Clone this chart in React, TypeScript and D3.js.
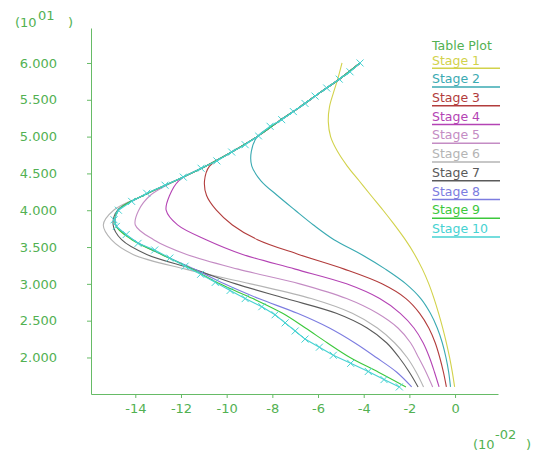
import React, { useEffect, useRef } from 'react';
import * as d3 from 'd3';

// depth levels (x10^1) used by stages 1-9
const levels = [1.6, 1.8, 2.0, 2.2, 2.4, 2.6, 2.8, 3.0, 3.2, 3.4, 3.6, 3.8, 4.0, 4.2, 4.4, 4.6, 4.8, 5.0, 5.2, 5.4, 5.6, 5.8, 6.0];

// x values (x10^-2) at each level
const stage1 = [-0.02, -0.12, -0.24, -0.38, -0.54, -0.72, -0.92, -1.15, -1.43, -1.77, -2.18, -2.65, -3.15, -3.68, -4.2, -4.72, -5.15, -5.45, -5.55, -5.5, -5.32, -5.12, -4.95];
const stage2 = [-0.2, -0.28, -0.4, -0.56, -0.78, -1.08, -1.5, -2.15, -3.05, -4.1, -5.3, -6.2, -7.0, -7.78, -8.5, -8.9, -8.92, -8.66, -7.75, -6.8, -5.9, -4.98, -4.16];
const stage3 = [-0.38, -0.51, -0.67, -0.87, -1.15, -1.55, -2.15, -3.2, -4.85, -6.85, -8.65, -9.75, -10.45, -10.88, -10.97, -10.75, -9.72, -8.66, -7.75, -6.8, -5.9, -4.98, -4.16];
const stage4 = [-0.7, -0.9, -1.12, -1.4, -1.8, -2.4, -3.3, -4.75, -7.0, -9.3, -10.9, -12.15, -12.65, -12.5, -12.1, -10.9, -9.72, -8.66, -7.75, -6.8, -5.9, -4.98, -4.16];
const stage5 = [-0.98, -1.27, -1.6, -1.95, -2.5, -3.4, -4.75, -6.8, -9.5, -11.75, -13.2, -14.0, -13.85, -13.35, -12.25, -10.9, -9.72, -8.66, -7.75, -6.8, -5.9, -4.98, -4.16];
const stage6 = [-1.38, -1.7, -2.1, -2.65, -3.4, -4.5, -6.3, -8.95, -11.8, -14.1, -15.05, -15.4, -14.95, -13.65, -12.25, -10.9, -9.72, -8.66, -7.75, -6.8, -5.9, -4.98, -4.16];
const stage7 = [-1.62, -2.0, -2.45, -3.0, -3.85, -5.2, -7.4, -9.6, -11.45, -13.5, -14.6, -14.97, -14.78, -13.65, -12.25, -10.9, -9.72, -8.66, -7.75, -6.8, -5.9, -4.98, -4.16];
const stage8 = [-1.9, -2.55, -3.45, -4.4, -5.5, -6.9, -8.6, -10.1, -11.4, -12.85, -14.1, -14.85, -14.74, -13.65, -12.25, -10.9, -9.72, -8.66, -7.75, -6.8, -5.9, -4.98, -4.16];
const stage9 = [-2.15, -3.35, -4.6, -5.6, -6.55, -7.55, -8.85, -10.3, -11.5, -12.85, -14.15, -14.87, -14.74, -13.65, -12.25, -10.9, -9.72, -8.66, -7.75, -6.8, -5.9, -4.98, -4.16];

// stage 10 has its own (marked) points
const stage10Levels = [6.0, 5.88, 5.78, 5.66, 5.55, 5.45, 5.34, 5.23, 5.14, 5.01, 4.89, 4.79, 4.67, 4.57, 4.45, 4.34, 4.23, 4.12, 4.0, 3.87, 3.78, 3.67, 3.55, 3.46, 3.35, 3.24, 3.13, 3.02, 2.91, 2.8, 2.69, 2.58, 2.47, 2.36, 2.25, 2.14, 2.03, 1.92, 1.81, 1.7, 1.6];
const stage10 = [-4.16, -4.6, -5.07, -5.62, -6.13, -6.57, -7.08, -7.59, -8.1, -8.61, -9.19, -9.78, -10.43, -11.12, -11.9, -12.7, -13.5, -14.16, -14.74, -14.93, -14.83, -14.4, -13.88, -13.15, -12.49, -11.82, -11.14, -10.5, -9.85, -9.19, -8.46, -7.88, -7.44, -7.0, -6.57, -5.94, -5.33, -4.57, -3.8, -3.11, -2.44];

const stageNames = ['Stage 1', 'Stage 2', 'Stage 3', 'Stage 4', 'Stage 5', 'Stage 6', 'Stage 7', 'Stage 8', 'Stage 9', 'Stage 10'];
const stageColors = ['#d2d24b', '#3aaab2', '#b23c3c', '#b443b4', '#c48cc4', '#b4b4b4', '#5a5a5a', '#7c7ce0', '#3cc83c', '#46d2d2'];
const yTicks = [2, 2.5, 3, 3.5, 4, 4.5, 5, 5.5, 6];
const xTicks = [-14, -12, -10, -8, -6, -4, -2, 0];

const FONT = '"DejaVu Sans", Verdana, sans-serif';
const GREEN = '#52b152';
const AXIS = '#66bb66';

const App = () => {
  const ref = useRef(null);

  useEffect(() => {
    const svg = d3.select(ref.current);
    svg.selectAll('*').remove();

    const x = d3.scaleLinear().domain([-15.94, 1.88]).range([91, 498]);
    const y = d3.scaleLinear().domain([1.504, 6.475]).range([394, 28]);

    // axes
    const yAxis = svg.append('g')
      .attr('transform', 'translate(91,0)')
      .call(d3.axisLeft(y).tickValues(yTicks).tickFormat(d3.format('.3f')).tickSize(4).tickSizeOuter(0).tickPadding(30));
    const xAxis = svg.append('g')
      .attr('transform', 'translate(0,394)')
      .call(d3.axisBottom(x).tickValues(xTicks).tickFormat(d => `${d}`).tickSize(4).tickSizeOuter(0).tickPadding(6));
    [yAxis, xAxis].forEach(g => {
      g.select('.domain').attr('stroke', AXIS);
      g.selectAll('.tick line').attr('stroke', AXIS);
      g.selectAll('.tick text').attr('fill', GREEN).style('font-family', FONT).style('font-size', '13px');
    });

    // exponent labels
    const lab = (tx, ty, t) => svg.append('text')
      .attr('x', tx).attr('y', ty).text(t)
      .attr('fill', GREEN).style('font-family', FONT).style('font-size', '13px');
    lab(15, 27, '(10');
    lab(38, 20, '01');
    lab(68, 27, ')');
    lab(473, 449, '(10');
    lab(495, 439, '-02');
    lab(526, 449, ')');

    // stage curves
    const coarse = [stage1, stage2, stage3, stage4, stage5, stage6, stage7, stage8, stage9];
    const line = d3.line<number>()
      .x(d => x(d))
      .y((d, i) => y(levels[i]))
      .curve(d3.curveCatmullRom.alpha(0.5));

    coarse.forEach((s, k) => {
      svg.append('path')
        .datum(s)
        .attr('fill', 'none')
        .attr('stroke', stageColors[k])
        .attr('stroke-width', 1.1)
        .attr('d', line);
    });

    const line10 = d3.line<number>()
      .x(d => x(d))
      .y((d, i) => y(stage10Levels[i]));
    svg.append('path')
      .datum(stage10)
      .attr('fill', 'none')
      .attr('stroke', stageColors[9])
      .attr('stroke-width', 1.1)
      .attr('d', line10);

    svg.append('g')
      .selectAll('path')
      .data(stage10)
      .join('path')
      .attr('d', (d, i) => {
        const cx = x(d), cy = y(stage10Levels[i]), r = 3.5;
        return `M${cx - r},${cy - r}L${cx + r},${cy + r}M${cx - r},${cy + r}L${cx + r},${cy - r}`;
      })
      .attr('stroke', stageColors[9])
      .attr('stroke-width', 1);

    // legend
    const leg = svg.append('g');
    leg.append('text')
      .attr('x', 432).attr('y', 50).text('Table Plot')
      .attr('fill', GREEN).style('font-family', FONT).style('font-size', '12.5px');
    stageNames.forEach((name, k) => {
      const by = 64.5 + k * 18.74;
      leg.append('text')
        .attr('x', 432).attr('y', by).text(name)
        .attr('fill', stageColors[k]).style('font-family', FONT).style('font-size', '12.5px');
      leg.append('line')
        .attr('x1', 432).attr('x2', 500)
        .attr('y1', by + 3.8).attr('y2', by + 3.8)
        .attr('stroke', stageColors[k]).attr('stroke-width', 1.6);
    });
  }, []);

  return (
    <svg ref={ref} width={536} height={455} style={{ position: 'absolute', left: 0, top: 0, background: '#fff' }}></svg>
  );
};

export default App;
